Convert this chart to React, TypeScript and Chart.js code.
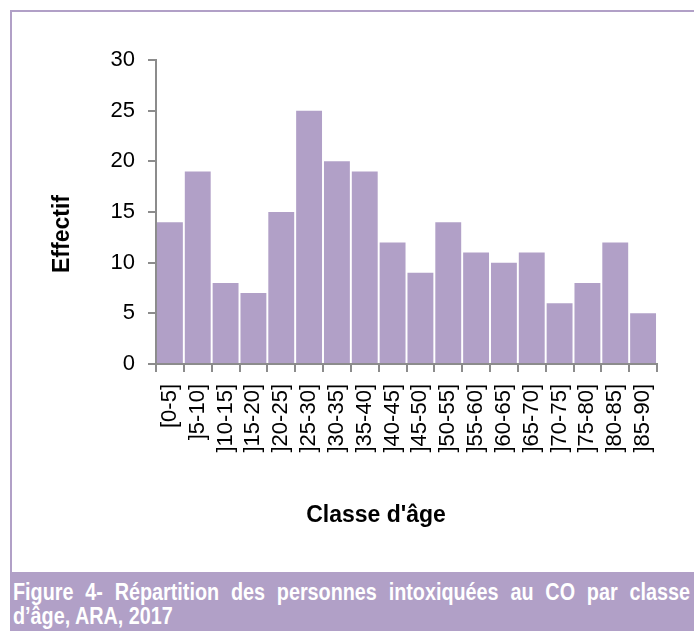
import React, { useEffect, useRef } from "react";
import { Chart, registerables } from "chart.js";

Chart.register(...registerables);

const categories = [
  "[0-5]", "]5-10]", "]10-15]", "]15-20]", "]20-25]", "]25-30]", "]30-35]", "]35-40]", "]40-45]",
  "]45-50]", "]50-55]", "]55-60]", "]60-65]", "]65-70]", "]70-75]", "]75-80]", "]80-85]", "]85-90]",
];
const effectifs = [14, 19, 8, 7, 15, 25, 20, 19, 12, 9, 14, 11, 10, 11, 6, 8, 12, 5];
const yTicks = [0, 5, 10, 15, 20, 25, 30];

const yTitle = "Effectif";
const xTitle = "Classe d'âge";
const captionLine1 = "Figure 4-  Répartition des personnes intoxiquées au CO par classe";
const captionLine2 = "d’âge, ARA, 2017";

const PURPLE = "#B1A0C7";
const AXIS = "#8C8C8C";
const FONT = "'Liberation Sans', Arial, sans-serif";

const axisTitlesPlugin = {
  id: "axisTitles",
  afterDraw(chart: any) {
    const { ctx, chartArea } = chart;
    ctx.save();
    ctx.fillStyle = "#000";
    ctx.font = `bold 23px ${FONT}`;
    ctx.textAlign = "center";
    ctx.textBaseline = "middle";
    // x-axis title
    ctx.fillText(xTitle, chartArea.left + 220, chartArea.bottom + 152);
    // y-axis title
    ctx.translate(chartArea.left - 93, chartArea.top + 174);
    ctx.rotate(-Math.PI / 2);
    ctx.fillText(yTitle, 0, 0);
    ctx.restore();
  },
};

export default function App() {
  const ref = useRef<HTMLCanvasElement | null>(null);

  useEffect(() => {
    document.body.style.margin = "0";
    const ctx = ref.current!;
    const chart = new Chart(ctx, {
      type: "bar",
      data: {
        labels: categories,
        datasets: [
          {
            data: effectifs,
            backgroundColor: PURPLE,
            borderWidth: 0,
            barPercentage: 0.93,
            categoryPercentage: 1,
          },
        ],
      },
      plugins: [axisTitlesPlugin],
      options: {
        animation: false,
        responsive: false,
        maintainAspectRatio: false,
        layout: { padding: { left: 0, right: 37, top: 60, bottom: 0 } },
        plugins: { legend: { display: false }, tooltip: { enabled: false } },
        scales: {
          x: {
            afterFit: (s: any) => {
              s.height = 208;
            },
            grid: {
              display: true,
              drawOnChartArea: false,
              drawTicks: true,
              tickLength: 8,
              color: AXIS,
              lineWidth: 2,
              offset: true,
            },
            border: { display: true, color: AXIS, width: 2 },
            ticks: {
              autoSkip: false,
              minRotation: 90,
              maxRotation: 90,
              padding: 12,
              color: "#000",
              font: { family: FONT, size: 22 },
            },
          },
          y: {
            min: 0,
            max: 30,
            afterFit: (s: any) => {
              s.width = 156;
            },
            afterBuildTicks: (s: any) => {
              s.ticks = yTicks.map((v) => ({ value: v }));
            },
            grid: {
              display: true,
              drawOnChartArea: false,
              drawTicks: true,
              tickLength: 8,
              color: AXIS,
              lineWidth: 2,
            },
            border: { display: true, color: AXIS, width: 2 },
            ticks: {
              padding: 13,
              color: "#000",
              font: { family: FONT, size: 22 },
            },
          },
        },
      },
    });
    return () => chart.destroy();
  }, []);

  const scale = 0.86;
  const innerW = (684 - 7) / scale;

  return (
    <div style={{ position: "absolute", left: 0, top: 0, width: 694, height: 631, background: "#fff", overflow: "hidden" }}>
      <canvas ref={ref} width={694} height={572} style={{ position: "absolute", left: 0, top: 0, width: 694, height: 572 }} />
      <div
        style={{
          position: "absolute",
          left: 10,
          top: 10,
          width: 684,
          height: 562,
          borderTop: `2px solid ${PURPLE}`,
          borderLeft: `2px solid ${PURPLE}`,
          boxSizing: "border-box",
          pointerEvents: "none",
        }}
      />
      <div
        style={{
          position: "absolute",
          left: 10,
          top: 572,
          width: 684,
          height: 59,
          background: PURPLE,
          color: "#fff",
          boxSizing: "border-box",
          paddingTop: 8,
          paddingLeft: 3,
        }}
      >
        <div
          style={{
            width: innerW,
            transform: `scaleX(${scale})`,
            transformOrigin: "left top",
            fontFamily: FONT,
            fontWeight: "bold",
            fontSize: 23,
            lineHeight: "24px",
          }}
        >
          <div style={{ textAlign: "justify", textAlignLast: "justify", whiteSpace: "nowrap" as any }}>{captionLine1}</div>
          <div>{captionLine2}</div>
        </div>
      </div>
    </div>
  );
}
